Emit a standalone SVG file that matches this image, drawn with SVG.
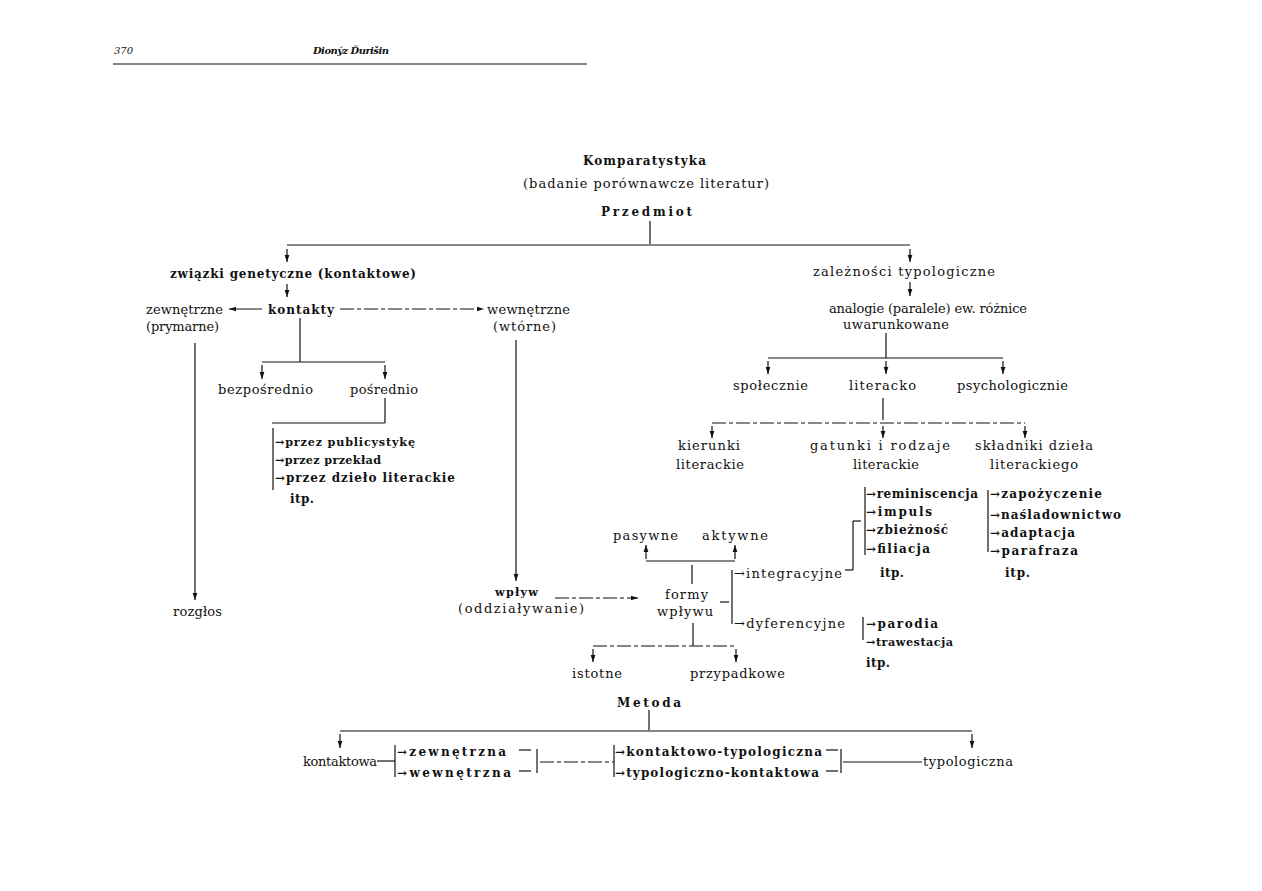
<svg xmlns="http://www.w3.org/2000/svg" width="1262" height="891" viewBox="0 0 1262 891">
<style>
text{font-family:"DejaVu Serif","Liberation Serif",serif;font-size:13px;fill:#111}
.b{font-weight:bold;font-size:12px}
.s{font-size:11.2px}
.hd{font-size:10px;font-style:italic}
.ln{stroke:#111;stroke-width:1.2;fill:none}
.ds{stroke-dasharray:14 3 4 3}
.ar{marker-end:url(#ah)}
</style>
<defs>
<marker id="ah" viewBox="0 0 8 8" refX="8" refY="4" markerWidth="7" markerHeight="7" markerUnits="userSpaceOnUse" orient="auto">
<path d="M0,1.3 L8,4 L0,6.7 z" fill="#111"/>
</marker>
</defs>
<rect width="1262" height="891" fill="#fff"/>

<g id="header">
<text class="hd" x="114" y="54">370</text>
<text class="hd" x="313" y="54" font-weight="bold" textLength="76">Dionýz Ďurišin</text>
<line class="ln" x1="113" y1="64" x2="587" y2="64" stroke-width="1.5"/>
</g>

<g id="connectors">
<line class="ln" x1="650" y1="221" x2="650" y2="244"/>
<line class="ln" x1="287" y1="245" x2="910" y2="245"/>
<line class="ln ar" x1="287" y1="249" x2="287" y2="262"/>
<line class="ln ar" x1="910" y1="249" x2="910" y2="262"/>
<line class="ln ar" x1="287" y1="284" x2="287" y2="297"/>
<line class="ln ar" x1="262" y1="309" x2="229" y2="309"/>
<line class="ln ds ar" x1="340" y1="309" x2="484" y2="309"/>
<line class="ln" x1="300" y1="318" x2="300" y2="362"/>
<line class="ln" x1="262" y1="362" x2="385" y2="362"/>
<line class="ln ar" x1="262" y1="365" x2="262" y2="379"/>
<line class="ln ar" x1="385" y1="365" x2="385" y2="379"/>
<line class="ln" x1="385" y1="398" x2="385" y2="423"/>
<line class="ln" x1="272" y1="423" x2="385" y2="423"/>
<line class="ln" x1="273" y1="428" x2="273" y2="490"/>
<line class="ln ar" x1="195" y1="343" x2="195" y2="600"/>
<line class="ln ar" x1="516" y1="340" x2="516" y2="581"/>
<line class="ln ds ar" x1="555" y1="598" x2="638" y2="598"/>
<line class="ln" x1="692" y1="565" x2="692" y2="584"/>
<line class="ln" x1="646" y1="561" x2="735" y2="561"/>
<line class="ln ar" x1="646" y1="559" x2="646" y2="545"/>
<line class="ln ar" x1="735" y1="559" x2="735" y2="545"/>
<line class="ln" x1="693" y1="623" x2="693" y2="646"/>
<line class="ln ds" x1="593" y1="646" x2="736" y2="646"/>
<line class="ln ar" x1="593" y1="649" x2="593" y2="662"/>
<line class="ln ar" x1="736" y1="649" x2="736" y2="662"/>
<line class="ln" x1="720" y1="602" x2="729" y2="602"/>
<line class="ln" x1="732" y1="570" x2="732" y2="624"/>
<line class="ln" x1="845" y1="570" x2="853" y2="570"/>
<line class="ln" x1="853" y1="570" x2="853" y2="521"/>
<line class="ln" x1="853" y1="521" x2="861" y2="521"/>
<line class="ln" x1="865" y1="487" x2="865" y2="555"/>
<line class="ln" x1="988" y1="490" x2="988" y2="552"/>
<line class="ln" x1="863" y1="617" x2="863" y2="640"/>
<line class="ln ar" x1="910" y1="282" x2="910" y2="296"/>
<line class="ln" x1="886" y1="333" x2="886" y2="358"/>
<line class="ln" x1="768" y1="358" x2="1003" y2="358"/>
<line class="ln ar" x1="768" y1="361" x2="768" y2="374"/>
<line class="ln ar" x1="886" y1="361" x2="886" y2="374"/>
<line class="ln ar" x1="1003" y1="361" x2="1003" y2="374"/>
<line class="ln" x1="883" y1="398" x2="883" y2="420"/>
<line class="ln ds" x1="712" y1="423" x2="1025" y2="423"/>
<line class="ln ar" x1="712" y1="426" x2="712" y2="438"/>
<line class="ln ar" x1="883" y1="426" x2="883" y2="438"/>
<line class="ln ar" x1="1025" y1="426" x2="1025" y2="438"/>
<line class="ln" x1="649" y1="710" x2="649" y2="730"/>
<line class="ln" x1="340" y1="731" x2="972" y2="731"/>
<line class="ln ar" x1="340" y1="734" x2="340" y2="748"/>
<line class="ln ar" x1="972" y1="734" x2="972" y2="748"/>
<line class="ln" x1="377" y1="761" x2="395" y2="761"/>
<line class="ln" x1="395" y1="745" x2="395" y2="777"/>
<line class="ln" x1="519" y1="750" x2="531" y2="750"/>
<line class="ln" x1="519" y1="771" x2="531" y2="771"/>
<line class="ln" x1="537" y1="749" x2="537" y2="773"/>
<line class="ln ds" x1="540" y1="762" x2="614" y2="762"/>
<line class="ln" x1="614" y1="745" x2="614" y2="777"/>
<line class="ln" x1="826" y1="750" x2="838" y2="750"/>
<line class="ln" x1="826" y1="771" x2="838" y2="771"/>
<line class="ln" x1="841" y1="749" x2="841" y2="773"/>
<line class="ln" x1="843" y1="762" x2="922" y2="762"/>
</g>

<g id="n-komparatystyka"><text class="b" x="583" y="165" textLength="123">Komparatystyka</text><text x="523" y="188" textLength="246">(badanie porównawcze literatur)</text></g>
<g id="n-przedmiot"><text class="b" x="601" y="216" textLength="91">Przedmiot</text></g>
<g id="n-zwiazki"><text class="b" x="170" y="278" textLength="246">związki genetyczne (kontaktowe)</text></g>
<g id="n-kontakty"><text class="b" x="268" y="314" textLength="66">kontakty</text></g>
<g id="n-zewnetrzne"><text x="146" y="314" textLength="77">zewnętrzne</text><text x="146" y="331" textLength="73">(prymarne)</text></g>
<g id="n-wewnetrzne"><text x="487" y="314" textLength="83">wewnętrzne</text><text x="493" y="331" textLength="63">(wtórne)</text></g>
<g id="n-bezposrednio"><text x="218" y="394" textLength="95">bezpośrednio</text></g>
<g id="n-posrednio"><text x="350" y="394" textLength="68">pośrednio</text></g>
<g id="n-przez"><text class="b s" x="275" y="446" textLength="140">→przez publicystykę</text><text class="b s" x="275" y="464" textLength="106">→przez przekład</text><text class="b" x="275" y="482" textLength="180">→przez dzieło literackie</text><text class="b" x="290" y="503" textLength="24">itp.</text></g>
<g id="n-rozglos"><text x="173" y="616" textLength="49">rozgłos</text></g>
<g id="n-wplyw"><text class="b s" x="495" y="596" textLength="43">wpływ</text><text x="458" y="613" textLength="126">(oddziaływanie)</text></g>
<g id="n-pasywne"><text x="613" y="540" textLength="65">pasywne</text></g>
<g id="n-aktywne"><text x="702" y="540" textLength="66">aktywne</text></g>
<g id="n-formy"><text x="665" y="599" textLength="43">formy</text><text x="657" y="616" textLength="56">wpływu</text></g>
<g id="n-integracyjne"><text x="734" y="578" textLength="108">→integracyjne</text></g>
<g id="n-dyferencyjne"><text x="734" y="628" textLength="111">→dyferencyjne</text></g>
<g id="n-istotne"><text x="572" y="678" textLength="50">istotne</text></g>
<g id="n-przypadkowe"><text x="690" y="678" textLength="95">przypadkowe</text></g>
<g id="n-zaleznosci"><text x="813" y="276" textLength="182">zależności typologiczne</text></g>
<g id="n-analogie"><text x="829" y="313" textLength="198">analogie (paralele) ew. różnice</text><text x="843" y="329" textLength="106">uwarunkowane</text></g>
<g id="n-spolecznie"><text x="733" y="390" textLength="75">społecznie</text></g>
<g id="n-literacko"><text x="849" y="390" textLength="67">literacko</text></g>
<g id="n-psychologicznie"><text x="957" y="390" textLength="111">psychologicznie</text></g>
<g id="n-kierunki"><text x="678" y="450" textLength="62">kierunki</text><text x="676" y="469" textLength="68">literackie</text></g>
<g id="n-gatunki"><text x="810" y="450" textLength="140">gatunki i rodzaje</text><text x="853" y="469" textLength="66">literackie</text></g>
<g id="n-skladniki"><text x="975" y="450" textLength="118">składniki dzieła</text><text x="990" y="469" textLength="88">literackiego</text></g>
<g id="n-reminiscencja"><text class="b" x="866" y="498" textLength="112">→reminiscencja</text><text class="b" x="866" y="516" textLength="66">→impuls</text><text class="b" x="866" y="534" textLength="82">→zbieżność</text><text class="b" x="866" y="553" textLength="64">→filiacja</text><text class="b" x="880" y="577" textLength="24">itp.</text></g>
<g id="n-zapozyczenie"><text class="b" x="990" y="498" textLength="112">→zapożyczenie</text><text class="b" x="990" y="519" textLength="131">→naśladownictwo</text><text class="b" x="990" y="537" textLength="85">→adaptacja</text><text class="b" x="990" y="555" textLength="88">→parafraza</text><text class="b" x="1005" y="577" textLength="25">itp.</text></g>
<g id="n-parodia"><text class="b" x="866" y="628" textLength="72">→parodia</text><text class="b s" x="866" y="646" textLength="87">→trawestacja</text><text class="b" x="866" y="667" textLength="24">itp.</text></g>
<g id="n-metoda"><text class="b" x="617" y="707" textLength="64">Metoda</text></g>
<g id="n-kontaktowa"><text x="303" y="766" textLength="74">kontaktowa</text></g>
<g id="n-zewn-wewn"><text class="b" x="397" y="756" textLength="109">→zewnętrzna</text><text class="b" x="397" y="777" textLength="114">→wewnętrzna</text></g>
<g id="n-mieszane"><text class="b" x="615" y="756" textLength="207">→kontaktowo-typologiczna</text><text class="b" x="615" y="777" textLength="204">→typologiczno-kontaktowa</text></g>
<g id="n-typologiczna"><text x="923" y="766" textLength="90">typologiczna</text></g>
</svg>
